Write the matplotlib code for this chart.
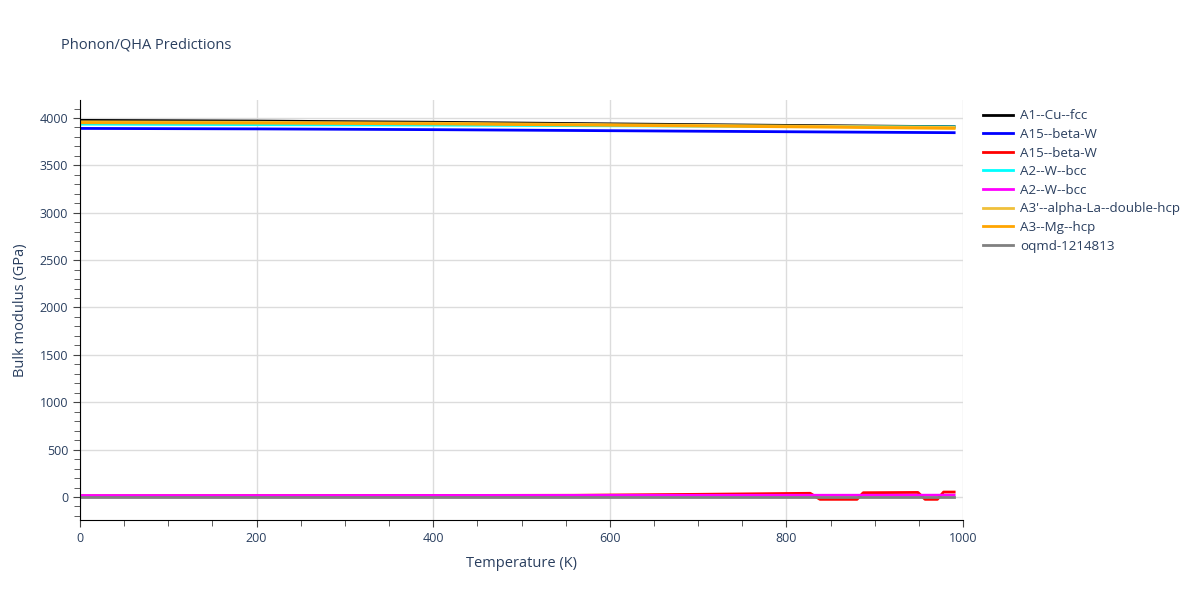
import matplotlib.pyplot as plt
from matplotlib.ticker import MultipleLocator

plt.rcParams['font.family'] = ['Open Sans', 'DejaVu Sans']

# values
temps = [0, 200, 400, 600, 800, 990]
cu_fcc = [3975, 3968, 3955, 3938, 3922, 3908]
beta_w_1 = [3890, 3885, 3877, 3866, 3855, 3845]
w_bcc_1 = [3935, 3930, 3925, 3918, 3912, 3905]
w_bcc_2 = [15, 15, 16, 17, 18, 19]
la_dhcp = [3960, 3955, 3945, 3930, 3915, 3900]
mg_hcp = [3950, 3946, 3938, 3923, 3907, 3890]
oqmd = [3, 3, 3, 3, 3, 3]

temps_red = [0, 200, 400, 560, 700, 827, 838, 880, 887, 949, 957, 971, 978, 990]
beta_w_2 = [12, 14, 16, 18, 28, 39, -25, -25, 45, 48, -25, -25, 52, 52]

series = [
    ("A1--Cu--fcc", temps, cu_fcc, "black"),
    ("A15--beta-W", temps, beta_w_1, "blue"),
    ("A15--beta-W", temps_red, beta_w_2, "red"),
    ("A2--W--bcc", temps, w_bcc_1, "cyan"),
    ("A2--W--bcc", temps, w_bcc_2, "magenta"),
    ("A3'--alpha-La--double-hcp", temps, la_dhcp, "#f0c03a"),
    ("A3--Mg--hcp", temps, mg_hcp, "orange"),
    ("oqmd-1214813", temps, oqmd, "gray"),
]

txt = "#2a3f5f"
fig = plt.figure(figsize=(12, 6), dpi=100)
ax = fig.add_axes([80 / 1200, 80 / 600, 883 / 1200, 420 / 600])

for name, x, y, c in series:
    ax.plot(x, y, color=c, lw=2, label=name)

ax.set_xlim(0, 1000)
ax.set_ylim(-243, 4190)
ax.xaxis.set_major_locator(MultipleLocator(200))
ax.xaxis.set_minor_locator(MultipleLocator(50))
ax.yaxis.set_major_locator(MultipleLocator(500))
ax.yaxis.set_minor_locator(MultipleLocator(100))
ax.grid(True, which="major", color="#dcdcdc", lw=1)
ax.set_axisbelow(True)
for s in ["top", "right"]:
    ax.spines[s].set_visible(False)
ax.spines["left"].set_color("black")
ax.spines["bottom"].set_color("black")
ax.tick_params(which="both", direction="out", colors="#444444", labelcolor=txt, labelsize=9)
ax.tick_params(which="major", length=5)
ax.tick_params(which="minor", length=4)

ax.set_xlabel("Temperature (K)", color=txt, fontsize=10.5, labelpad=8)
ax.set_ylabel("Bulk modulus (GPa)", color=txt, fontsize=10.5, labelpad=8)
fig.text(61 / 1200, 1 - 45 / 600, "Phonon/QHA Predictions", color=txt, fontsize=10.5, va="center")

leg = ax.legend(loc="upper left", bbox_to_anchor=(978 / 1200, 1 - 104 / 600), bbox_transform=fig.transFigure,
                frameon=False, fontsize=9.6, handlelength=2.2, handletextpad=0.55,
                labelspacing=0.42, borderaxespad=0)
for t in leg.get_texts():
    t.set_color(txt)

fig.savefig("out.png", dpi=100)
